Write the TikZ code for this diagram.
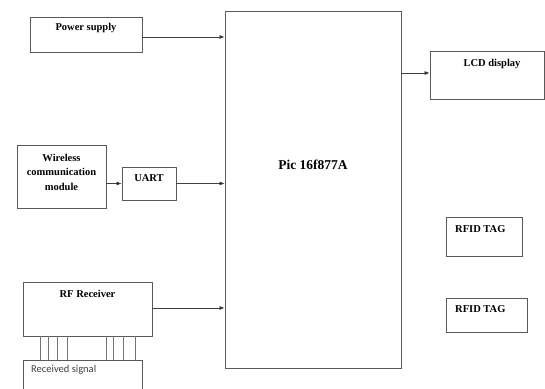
\documentclass[tikz,border=0pt]{standalone}
\usepackage{fontspec}
\setmainfont{Liberation Serif}
\newfontfamily\sigfont{Carlito}
\usetikzlibrary{arrows.meta}
\begin{document}
\begin{tikzpicture}[x=1pt,y=1pt,
  blk/.style={draw=black!65,line width=0.8pt,inner sep=0pt,fill=white},
  lbl/.style={font=\fontsize{10.5}{12}\selectfont\bfseries,inner sep=0pt,align=center},
  arr/.style={draw=black!75,line width=0.7pt,-{Latex[length=5pt,width=4pt,fill=black]}},
  pin/.style={draw=black!55,line width=0.6pt}]
\useasboundingbox (0,0) rectangle (545,388);
% boxes
\node[blk,minimum width=112,minimum height=35] (power) at (86,353.5) {};
\node[blk,minimum width=176,minimum height=357] (pic) at (313,198.5) {};
\node[blk,minimum width=114,minimum height=48] (lcd) at (487,313) {};
\node[blk,minimum width=89,minimum height=63] (wless) at (61.5,211.5) {};
\node[blk,minimum width=54,minimum height=33] (uart) at (149,204.5) {};
\node[blk,minimum width=129,minimum height=54] (rf) at (87.5,79) {};
\node[blk,minimum width=119,minimum height=40] (recv) at (82.5,8) {};
\node[blk,minimum width=76,minimum height=39] (tag1) at (484,151.5) {};
\node[blk,minimum width=81,minimum height=34] (tag2) at (486.5,73) {};
% texts
\node[lbl] (tpower) at (86,360) {Power supply};
\node[lbl,font=\fontsize{13.5}{15}\selectfont\bfseries] (tpic) at (313,223) {Pic 16f877A};
\node[lbl] (tlcd) at (492,324) {LCD display};
\node[lbl,font=\fontsize{10.5}{14.5}\selectfont\bfseries] (twless) at (61.5,216) {Wireless\\communication\\module};
\node[lbl] (tuart) at (149,210) {UART};
\node[lbl] (trf) at (87.5,94) {RF Receiver};
\node[lbl,anchor=west] (ttag1) at (455,159) {RFID TAG};
\node[lbl,anchor=west] (ttag2) at (455,79) {RFID TAG};
\node[anchor=west,inner sep=0pt,font=\sigfont\fontsize{10.5}{12}\selectfont,text=black!75] (trecv) at (31,18) {Received signal};
% pins
\foreach \px in {40,48,57,67,106,113,123,135}{
  \draw[pin] (rf.south -| \px,0) -- (recv.north -| \px,0);
}
% connectors
\draw[arr] ([yshift=-2.5pt]power.east) -- ([yshift=-2.5pt]power.east -| pic.west);
\draw[arr] (wless.east |- uart) -- (uart.west);
\draw[arr] (uart.east) -- (uart -| pic.west);
\draw[arr] ([yshift=1pt]rf.east) -- ([yshift=1pt]rf.east -| pic.west);
\draw[arr] ([yshift=2pt]lcd.west -| pic.east) -- ([yshift=2pt]lcd.west);
\end{tikzpicture}
\end{document}
